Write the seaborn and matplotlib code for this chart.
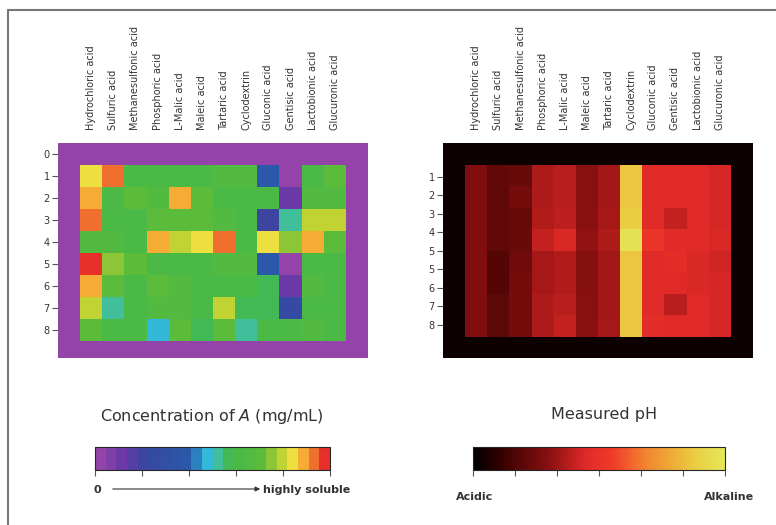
import numpy as np
import matplotlib
matplotlib.use("Agg")
import matplotlib.pyplot as plt
from matplotlib.colors import LinearSegmentedColormap
from matplotlib.lines import Line2D
import seaborn as sns

sns.set_style("white")
plt.rcParams['font.family'] = ['DejaVu Sans']

acids = ["Hydrochloric acid", "Sulfuric acid", "Methanesulfonic acid", "Phosphoric acid",
         "L-Malic acid", "Maleic acid", "Tartaric acid", "Cyclodextrin",
         "Gluconic acid", "Gentisic acid", "Lactobionic acid", "Glucuronic acid"]
left_rows = ["0", "1", "2", "3", "4", "5", "6", "7", "8"]
right_rows = ["1", "2", "3", "4", "5", "5", "6", "7", "8"]

# solubility (0 = none, 1 = highly soluble), rows 1..8
solubility = [
    [0.84, 0.95, 0.62, 0.62, 0.62, 0.62, 0.68, 0.64, 0.38, 0.02, 0.63, 0.70],
    [0.88, 0.60, 0.70, 0.68, 0.87, 0.72, 0.62, 0.62, 0.62, 0.12, 0.64, 0.64],
    [0.93, 0.60, 0.60, 0.72, 0.72, 0.70, 0.68, 0.62, 0.20, 0.50, 0.78, 0.78],
    [0.68, 0.64, 0.62, 0.87, 0.78, 0.83, 0.91, 0.62, 0.82, 0.76, 0.90, 0.70],
    [0.98, 0.76, 0.70, 0.62, 0.62, 0.63, 0.67, 0.66, 0.38, 0.04, 0.62, 0.60],
    [0.88, 0.70, 0.62, 0.72, 0.64, 0.63, 0.62, 0.62, 0.55, 0.10, 0.65, 0.60],
    [0.80, 0.54, 0.62, 0.68, 0.64, 0.63, 0.78, 0.58, 0.58, 0.25, 0.63, 0.60],
    [0.70, 0.63, 0.63, 0.46, 0.72, 0.55, 0.72, 0.50, 0.62, 0.62, 0.64, 0.62],
]

# measured pH (0 = acidic, 1 = alkaline), rows 1..8
ph = [
    [0.28, 0.21, 0.22, 0.36, 0.38, 0.30, 0.34, 0.86, 0.46, 0.45, 0.45, 0.43],
    [0.28, 0.21, 0.25, 0.36, 0.38, 0.30, 0.34, 0.86, 0.46, 0.45, 0.45, 0.43],
    [0.28, 0.21, 0.22, 0.37, 0.39, 0.30, 0.35, 0.88, 0.46, 0.40, 0.45, 0.43],
    [0.28, 0.21, 0.22, 0.40, 0.44, 0.31, 0.36, 0.97, 0.52, 0.46, 0.46, 0.44],
    [0.28, 0.18, 0.24, 0.35, 0.37, 0.29, 0.34, 0.86, 0.46, 0.47, 0.44, 0.42],
    [0.28, 0.18, 0.25, 0.35, 0.37, 0.29, 0.34, 0.86, 0.46, 0.45, 0.44, 0.43],
    [0.28, 0.20, 0.25, 0.36, 0.38, 0.30, 0.34, 0.86, 0.46, 0.38, 0.45, 0.43],
    [0.28, 0.20, 0.25, 0.36, 0.40, 0.30, 0.35, 0.86, 0.47, 0.45, 0.45, 0.43],
]

sol_cmap = LinearSegmentedColormap.from_list("sol", [
    (0.0, "#9444a8"), (0.1, "#6a3aa8"), (0.2, "#3846a0"), (0.4, "#2a5aaa"),
    (0.47, "#30b8e0"), (0.52, "#40c0a0"), (0.58, "#44b848"), (0.72, "#5cbc3c"),
    (0.8, "#b8d030"), (0.86, "#f0e040"), (0.92, "#f59a30"), (1.0, "#e8302a")], N=22)
ph_cmap = LinearSegmentedColormap.from_list("ph", [
    (0.0, "#000000"), (0.1, "#300000"), (0.3, "#8a1010"), (0.45, "#e02a28"),
    (0.55, "#f03a28"), (0.7, "#f28a30"), (0.88, "#eacc40"), (1.0, "#e4e85a")])

sol_grid = np.pad(np.array(solubility), 1, constant_values=0.0)
ph_grid = np.pad(np.array(ph), 1, constant_values=0.03)

fig = plt.figure(figsize=(7.76, 5.25), dpi=100)
txt = "#333333"

ax1 = fig.add_axes([58 / 776, 1 - 358 / 525, 310 / 776, 215 / 525])
ax2 = fig.add_axes([443 / 776, 1 - 358 / 525, 310 / 776, 215 / 525])

sns.heatmap(sol_grid, ax=ax1, cmap=sol_cmap, vmin=0, vmax=1, cbar=False,
            xticklabels=False, yticklabels=False)
sns.heatmap(ph_grid, ax=ax2, cmap=ph_cmap, vmin=0, vmax=1, cbar=False,
            xticklabels=False, yticklabels=False)
ax1.set_ylim(9.75, 0)

for ax in (ax1, ax2):
    ax.xaxis.tick_top()
    ax.set_xticks(np.arange(len(acids)) + 1.5)
    ax.set_xticklabels(acids, rotation=90, fontsize=7, color=txt)
    ax.tick_params(axis="x", length=0, pad=9)
    ax.tick_params(axis="y", length=4, width=0.8, pad=2, labelsize=7,
                   labelcolor=txt, left=True, color="#555555")

ax1.set_yticks(np.arange(len(left_rows)) + 0.5)
ax1.set_yticklabels(left_rows, rotation=0)
ax2.set_yticks(np.linspace(1.58, 8.45, len(right_rows)))
ax2.set_yticklabels(right_rows, rotation=0)

# colorbars
cax1 = fig.add_axes([95 / 776, 1 - 470 / 525, 235 / 776, 23 / 525])
cax2 = fig.add_axes([473 / 776, 1 - 470 / 525, 252 / 776, 23 / 525])
cb1 = fig.colorbar(plt.cm.ScalarMappable(cmap=sol_cmap, norm=plt.Normalize(0, 1)),
                   cax=cax1, orientation="horizontal")
cb2 = fig.colorbar(plt.cm.ScalarMappable(cmap=ph_cmap, norm=plt.Normalize(0, 1)),
                   cax=cax2, orientation="horizontal")
cb1.set_ticks(np.linspace(0, 1, 6))
cb2.set_ticks(np.linspace(0, 1, 7))
for cb in (cb1, cb2):
    cb.ax.set_xticklabels([])
    cb.ax.tick_params(length=4, width=0.8, color="#555555")
    cb.outline.set_linewidth(0.8)

fig.text(212 / 776, 1 - 416 / 525, r"Concentration of $\it{A}$ (mg/mL)",
         ha="center", va="center", fontsize=11.5, color=txt)
fig.text(604 / 776, 1 - 414 / 525, "Measured pH", ha="center", va="center",
         fontsize=11.5, color=txt)

fig.text(97 / 776, 1 - 490 / 525, "0", ha="center", va="center", fontsize=8,
         fontweight="bold", color=txt)
fig.text(263 / 776, 1 - 490 / 525, "highly soluble", ha="left", va="center",
         fontsize=8, fontweight="bold", color=txt)
fig.add_artist(matplotlib.patches.FancyArrowPatch(
    (110 / 776, 1 - 489 / 525), (263 / 776, 1 - 489 / 525),
    transform=fig.transFigure, arrowstyle="-|>", mutation_scale=7,
    color="#333333", lw=0.8))

fig.text(475 / 776, 1 - 497 / 525, "Acidic", ha="center", va="center", fontsize=8,
         fontweight="bold", color=txt)
fig.text(729 / 776, 1 - 497 / 525, "Alkaline", ha="center", va="center", fontsize=8,
         fontweight="bold", color=txt)

# figure frame (left and top edges)
fig.add_artist(Line2D([8 / 776, 8 / 776], [0, 1 - 10 / 525], transform=fig.transFigure,
                      color="#777777", lw=1.5))
fig.add_artist(Line2D([8 / 776, 1], [1 - 10 / 525, 1 - 10 / 525], transform=fig.transFigure,
                      color="#777777", lw=1.5))

fig.savefig("out.png", dpi=100)
